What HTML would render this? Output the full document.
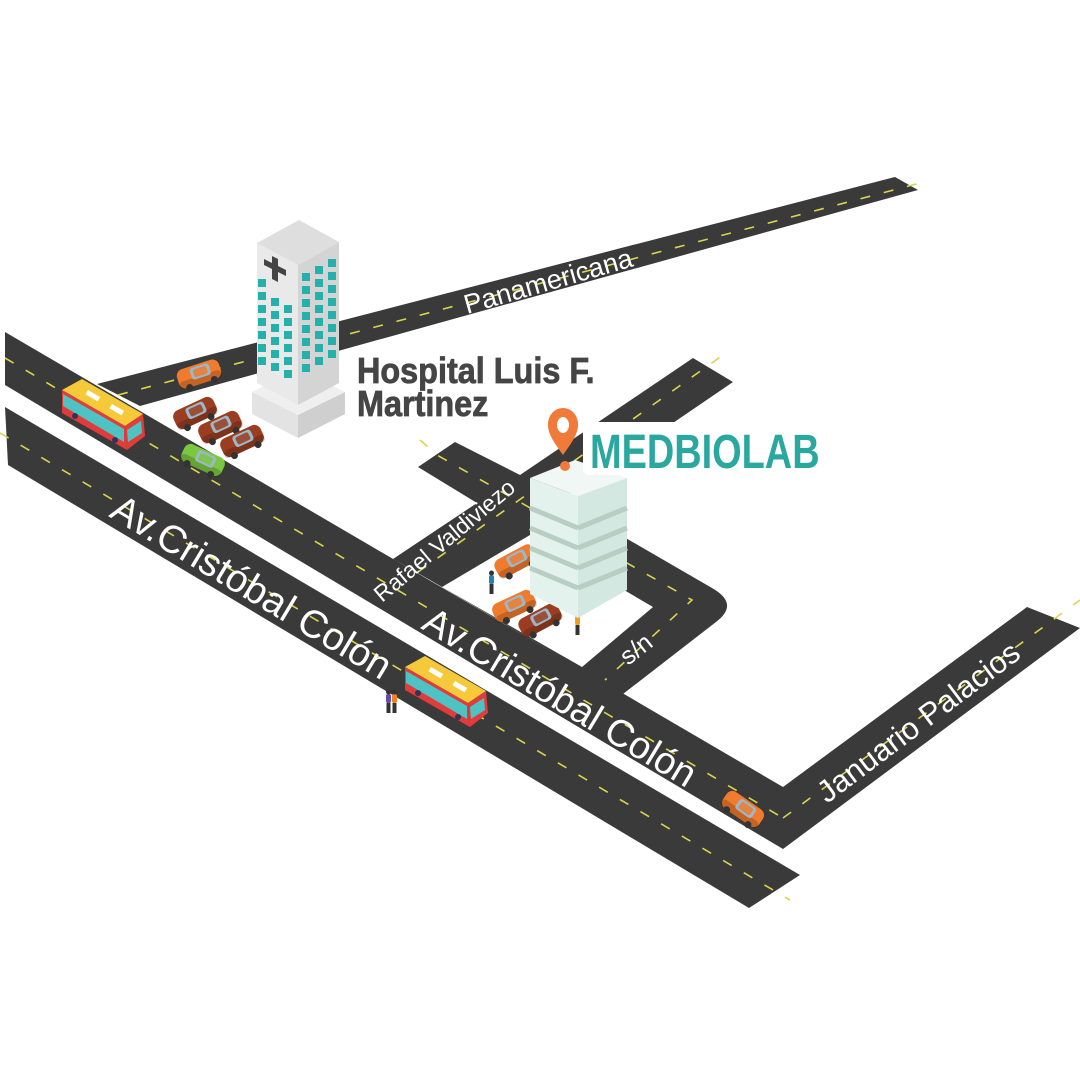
<!DOCTYPE html>
<html><head><meta charset="utf-8"><style>
html,body{margin:0;padding:0;background:#fff;}
svg{display:block;}
text{font-family:"Liberation Sans",sans-serif;}
</style></head><body>
<svg width="1080" height="1080" viewBox="0 0 1080 1080" xmlns="http://www.w3.org/2000/svg">
<defs>
 <g id="car">
  <rect x="-22" y="-10" width="44" height="20" rx="7" fill="currentColor"/>
  <rect x="-22" y="2" width="44" height="8" rx="4" fill="#000" opacity="0.18"/>
  <rect x="-8" y="-8" width="20" height="12" rx="3" fill="#9db7c8"/>
  <rect x="-5" y="-6" width="14" height="8" rx="2" fill="currentColor" opacity="0.85"/>
  <circle cx="-13" cy="10" r="3.5" fill="#333"/><circle cx="13" cy="10" r="3.5" fill="#333"/>
 </g>
 <g id="bus">
  <polygon points="62,390 82,379 143,414 125,426" fill="#f5c93a"/>
  <rect x="0" y="0" width="14" height="5" fill="#fff" transform="translate(88,390) rotate(30)"/>
  <rect x="0" y="0" width="14" height="5" fill="#fff" transform="translate(112,404) rotate(30)"/>
  <polygon points="62,390 125,426 127,450 62,413" fill="#e23b3b"/>
  <polygon points="63,394 124,429 124,442 63,406" fill="#4ec3c3"/>
  <polygon points="125,426 143,414 145,436 127,450" fill="#e23b3b"/>
  <polygon points="127,430 141,421 142,433 128,442" fill="#4ec3c3"/>
  <circle cx="75" cy="416" r="3" fill="#335"/><circle cx="115" cy="440" r="3" fill="#335"/>
 </g>
 <g id="person"><rect x="-2" y="-12" width="5" height="9" rx="2" fill="currentColor"/><circle cx="0.5" cy="-14" r="2.5" fill="#333"/><rect x="-1.5" y="-3" width="4" height="10" fill="#333"/></g>
</defs>

<g fill="#3a3a3a">
 <polygon points="5,407 800,875 749,908 8,465"/>
 <polygon points="5,332 783,787 1027,607 1080,628 783,849 5,385"/>
 <polygon points="97,384 895,177 918,190 140,406"/>
 <path d="M393,559 L477,503 L418,467 L455,442 L520,475 L693,358 L733,382 L560,500 L712,588 Q740,604 716,622 L623,694 L430,580 Z"/>
</g>
<polygon points="442,587 530,535 653,607 582,667" fill="#fff"/>

<g stroke="#d9d64a" stroke-width="1.6" stroke-dasharray="10 14" fill="none">
 <line x1="5" y1="358" x2="783" y2="818"/>
 <line x1="0" y1="433" x2="790" y2="900"/>
 <line x1="118" y1="395" x2="920" y2="183"/>
 <line x1="783" y1="818" x2="1080" y2="600"/>
 <line x1="418" y1="572" x2="730" y2="350"/>
 <polyline points="420,440 437,455 692,600 605,680"/>
</g>

<polygon points="252,392 298,415 345,392 345,414 298,438 252,414" fill="#e3e3e3"/>
<polygon points="298,415 345,392 345,414 298,438" fill="#cfcfcf"/>
<polygon points="252,392 298,369 345,392 298,415" fill="#efefef"/>
<polygon points="257,243 298,265 298,405 257,383" fill="#e9e9e9"/>
<polygon points="298,265 339,242 339,383 298,405" fill="#d4d4d4"/>
<polygon points="257,243 299,220 339,242 298,265" fill="#dedede"/>
<g fill="#444"><polygon points="272,256 278,259 278,266 286,270 286,276 278,272 278,282 272,279 272,269 264,265 264,259 272,263"/></g>
<g fill="#25b1ab">
 <g id="lw">
  <rect x="258" y="292" width="8" height="8"/><rect x="271" y="298" width="8" height="8"/><rect x="284" y="305" width="8" height="8"/>
 </g>
 <use href="#lw" y="13"/><use href="#lw" y="26"/><use href="#lw" y="39"/><use href="#lw" y="52"/><use href="#lw" y="65"/>
 <rect x="258" y="279" width="8" height="8"/>
 <g id="rw"><rect x="302" y="286" width="8" height="8"/><rect x="315" y="279" width="8" height="8"/><rect x="328" y="272" width="8" height="8"/></g>
 <use href="#rw" y="-13"/><use href="#rw" y="13"/><use href="#rw" y="26"/><use href="#rw" y="39"/><use href="#rw" y="52"/><use href="#rw" y="65"/><use href="#rw" y="78"/>
</g>

<use href="#car" transform="translate(199,374) rotate(-18)" color="#f07b2c"/>
<use href="#car" transform="translate(195,413) rotate(-25)" color="#9a3d20"/>
<use href="#car" transform="translate(220,427) rotate(-25)" color="#9a3d20"/>
<use href="#car" transform="translate(242,441) rotate(-25)" color="#9a3d20"/>
<use href="#car" transform="translate(203,460) rotate(25)" color="#7bc742"/>
<use href="#car" transform="translate(516,561) rotate(-28)" color="#f07b2c"/>
<use href="#car" transform="translate(514,606) rotate(-25)" color="#f07b2c"/>
<use href="#car" transform="translate(540,620) rotate(-28)" color="#9a3d20"/>
<use href="#car" transform="translate(743,809) rotate(35)" color="#f07b2c"/>
<use href="#bus"/>
<use href="#bus" transform="translate(343,277)"/>
<use href="#person" transform="translate(491,587)" color="#2d7fa6"/>
<use href="#person" transform="translate(577,628)" color="#f0a020"/>
<use href="#person" transform="translate(388,706)" color="#6a4aa0"/>
<use href="#person" transform="translate(394,706)" color="#f08020"/>

<polygon points="530,478 578,496 578,618 530,594" fill="#e3f2ed"/>
<polygon points="578,496 627,478 627,590 578,618" fill="#d2e8e0"/>
<polygon points="530,478 575,460 627,478 578,496" fill="#f0f7f5"/>
<g stroke="#b8cec5" stroke-width="5">
 <line x1="530" y1="508" x2="578" y2="528"/><line x1="578" y1="528" x2="627" y2="508"/>
 <line x1="530" y1="528" x2="578" y2="548"/><line x1="578" y1="548" x2="627" y2="528"/>
 <line x1="530" y1="548" x2="578" y2="568"/><line x1="578" y1="568" x2="627" y2="548"/>
 <line x1="530" y1="568" x2="578" y2="588"/><line x1="578" y1="588" x2="627" y2="568"/>
</g>

<rect x="583" y="422" width="240" height="53" rx="6" fill="#fff"/>
<path d="M563,408 a15,16 0 0 1 15,17 c0,10 -8,20 -15,30 c-7,-10 -15,-20 -15,-30 a15,16 0 0 1 15,-17 z" fill="#f07a3a"/>
<ellipse cx="563" cy="425" rx="6" ry="8" fill="#fff"/>
<circle cx="565" cy="466" r="5" fill="#f07a3a"/>
<text x="590" y="468" font-size="48" font-weight="bold" fill="#2aa8a0" transform="translate(590,0) scale(0.79,1) translate(-590,0)">MEDBIOLAB</text>

<g fill="#454545" font-weight="bold" font-size="36" stroke="#454545" stroke-width="0.8">
 <text x="357" y="383" transform="translate(357,0) scale(0.9,1) translate(-357,0)">Hospital Luis F.</text>
 <text x="357" y="416" transform="translate(357,0) scale(0.9,1) translate(-357,0)">Martinez</text>
</g>

<g fill="#fff">
 <text font-size="27" transform="translate(467,314) rotate(-16)">Panamericana</text>
 <text font-size="39" transform="translate(108,516) rotate(31)">Av.Cristóbal Colón</text>
 <text font-size="38" transform="translate(420,628) rotate(31)">Av.Cristóbal Colón</text>
 <text font-size="23" transform="translate(382,603) rotate(-40)">Rafael Valdiviezo</text>
 <text font-size="25" transform="translate(628,666) rotate(-38)">s/n</text>
 <text font-size="31" transform="translate(827,804) rotate(-37)">Januario Palacios</text>
</g>
</svg>
</body></html>
